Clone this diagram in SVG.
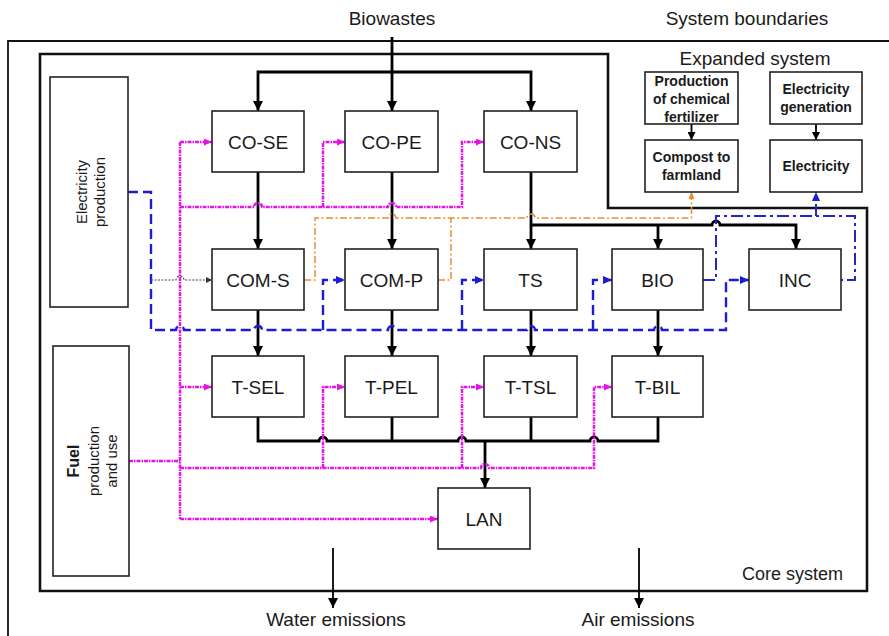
<svg xmlns="http://www.w3.org/2000/svg" width="889" height="636" viewBox="0 0 889 636">
<style>
text{font-family:"Liberation Sans",Arial,sans-serif;fill:#1a1a1a}
.lbl{font-size:19px;text-anchor:middle}
.sm{font-size:14px;font-weight:bold;text-anchor:middle}
.side{font-size:15px;text-anchor:middle}
.box{fill:#fff;stroke:#222;stroke-width:1.6}
.bd{fill:none;stroke:#111}
.bk{fill:none;stroke:#000;stroke-width:2.8}
.bt{fill:none;stroke:#000;stroke-width:1.8}
.mg{fill:none;stroke:#e415e4;stroke-width:2.5;stroke-dasharray:4 1 1.5 1}
.bl{fill:none;stroke:#1c1cd4;stroke-width:2.4;stroke-dasharray:10 5}
.bdd{fill:none;stroke:#2525c8;stroke-width:2;stroke-dasharray:12 4 3 4}
.or{fill:none;stroke:#ef8a33;stroke-width:1.5;stroke-dasharray:7 2.5 2 2.5}
.dt{fill:none;stroke:#444;stroke-width:1.1;stroke-dasharray:2 1.5}
</style>
<defs>
<marker id="ak" viewBox="0 0 10 10" refX="10" refY="5" markerWidth="10" markerHeight="10" markerUnits="userSpaceOnUse" orient="auto"><path d="M0,0L10,5L0,10z" fill="#000"/></marker>
<marker id="aks" viewBox="0 0 10 10" refX="10" refY="5" markerWidth="8" markerHeight="8" markerUnits="userSpaceOnUse" orient="auto"><path d="M0,0L10,5L0,10z" fill="#000"/></marker>
<marker id="am" viewBox="0 0 10 10" refX="10" refY="5" markerWidth="8" markerHeight="7" markerUnits="userSpaceOnUse" orient="auto" preserveAspectRatio="none"><path d="M0,0L10,5L0,10z" fill="#e415e4"/></marker>
<marker id="ab" viewBox="0 0 10 10" refX="10" refY="5" markerWidth="9" markerHeight="8" markerUnits="userSpaceOnUse" orient="auto" preserveAspectRatio="none"><path d="M0,0L10,5L0,10z" fill="#1c1cd4"/></marker>
<marker id="ao" viewBox="0 0 10 10" refX="10" refY="5" markerWidth="7" markerHeight="6" markerUnits="userSpaceOnUse" orient="auto" preserveAspectRatio="none"><path d="M0,0L10,5L0,10z" fill="#ef8a33"/></marker>
<marker id="ad" viewBox="0 0 10 10" refX="10" refY="5" markerWidth="6" markerHeight="6" markerUnits="userSpaceOnUse" orient="auto"><path d="M0,0L10,5L0,10z" fill="#333"/></marker>
</defs>

<g id="boundaries">
<path class="bd" stroke-width="1.8" d="M8,636V41H889"/>
<path class="bd" stroke-width="2.6" d="M40,54H608V208H867V591H40Z"/>
<text x="392" y="25" style="font-size:19px;text-anchor:middle">Biowastes</text>
<text x="747" y="25" style="font-size:19px;text-anchor:middle">System boundaries</text>
<text x="755" y="65" style="font-size:19px;text-anchor:middle">Expanded system</text>
<text x="843" y="580" style="font-size:18px;text-anchor:end">Core system</text>
<text x="336" y="626" style="font-size:19px;text-anchor:middle">Water emissions</text>
<text x="638" y="626" style="font-size:19px;text-anchor:middle">Air emissions</text>
</g>

<g id="connectors">
<path class="bk" d="M392,37V111" marker-end="url(#ak)"/>
<path class="bk" d="M392,72H258V111" marker-end="url(#ak)"/>
<path class="bk" d="M392,72H531V111" marker-end="url(#ak)"/>
<path class="bk" d="M258,172V249" marker-end="url(#ak)"/>
<path class="bk" d="M392,172V249" marker-end="url(#ak)"/>
<path class="bk" d="M531,172V249" marker-end="url(#ak)"/>
<path class="bk" d="M531,225H712a4,4 0 0 1 8,0H796V249" marker-end="url(#ak)"/>
<path class="bk" d="M658,225V249" marker-end="url(#ak)"/>
<path class="bk" d="M258,310V356" marker-end="url(#ak)"/>
<path class="bk" d="M392,310V356" marker-end="url(#ak)"/>
<path class="bk" d="M531,310V356" marker-end="url(#ak)"/>
<path class="bk" d="M658,310V356" marker-end="url(#ak)"/>
<path class="bk" d="M258,417V441H319a4,4 0 0 1 8,0H458a4,4 0 0 1 8,0H590a4,4 0 0 1 8,0H658V417"/>
<path class="bk" d="M392,417V441M531,417V441"/>
<path class="bk" d="M485,441V488" marker-end="url(#ak)"/>
<path class="bt" d="M333,548V608" marker-end="url(#ak)"/>
<path class="bt" d="M639,548V608" marker-end="url(#ak)"/>
<path class="bt" d="M691.5,124V140" marker-end="url(#aks)"/>
<path class="bt" d="M816,124V140" marker-end="url(#aks)"/>
<path class="mg" d="M129,461H180"/>
<path class="mg" d="M180,142V519"/>
<path class="mg" d="M180,142H212" marker-end="url(#am)"/>
<path class="mg" d="M180,387H212" marker-end="url(#am)"/>
<path class="mg" d="M180,519H438" marker-end="url(#am)"/>
<path class="mg" d="M180,207H254a4,4 0 0 1 8,0H388a4,4 0 0 1 8,0H462V142H484" marker-end="url(#am)"/>
<path class="mg" d="M323,207V142H345" marker-end="url(#am)"/>
<path class="mg" d="M180,468H481a4,4 0 0 1 8,0H594V387H612" marker-end="url(#am)"/>
<path class="mg" d="M323,468V387H345" marker-end="url(#am)"/>
<path class="mg" d="M462,468V387H484" marker-end="url(#am)"/>
<path class="bl" d="M128,192H151V330H176a4,4 0 0 1 8,0H254a4,4 0 0 1 8,0H388a4,4 0 0 1 8,0H527a4,4 0 0 1 8,0H654a4,4 0 0 1 8,0H726V280H749" marker-end="url(#ab)"/>
<path class="bl" d="M323,330V280H345" marker-end="url(#ab)"/>
<path class="bl" d="M462,330V280H484" marker-end="url(#ab)"/>
<path class="bl" d="M593,330V280H612" marker-end="url(#ab)"/>
<path class="dt" d="M151,280H176a4,4 0 0 1 8,0H212" marker-end="url(#ad)"/>
<path class="or" d="M304,280H315V218H388a4,4 0 0 1 8,0H527a4,4 0 0 1 8,0H691.5V192" marker-end="url(#ao)"/>
<path class="or" d="M438,280H451V218"/>
<path class="bdd" d="M703,280H716V216H855V280H841"/>
<path class="bdd" d="M816,216V192" marker-end="url(#ab)"/>
</g>

<g id="n-elecprod"><rect class="box" x="50" y="77" width="78" height="230"/>
<g transform="translate(89,192) rotate(-90)"><text class="side" x="0" y="-2">Electricity</text><text class="side" x="0" y="16">production</text></g></g>
<g id="n-fuel"><rect class="box" x="53" y="346" width="76" height="230"/>
<g transform="translate(91,461) rotate(-90)"><text class="side" x="0" y="-12" style="font-weight:bold;font-size:16px">Fuel</text><text class="side" x="0" y="8">production</text><text class="side" x="0" y="26">and use</text></g></g>

<g id="n-cose"><rect class="box" x="212" y="111" width="92" height="61"/><text class="lbl" x="258" y="148.5">CO-SE</text></g>
<g id="n-cope"><rect class="box" x="345" y="111" width="93" height="61"/><text class="lbl" x="391.5" y="148.5">CO-PE</text></g>
<g id="n-cons"><rect class="box" x="484" y="111" width="93" height="61"/><text class="lbl" x="530.5" y="148.5">CO-NS</text></g>
<g id="n-coms"><rect class="box" x="212" y="249" width="92" height="61"/><text class="lbl" x="258" y="286.5">COM-S</text></g>
<g id="n-comp"><rect class="box" x="345" y="249" width="93" height="61"/><text class="lbl" x="391.5" y="286.5">COM-P</text></g>
<g id="n-ts"><rect class="box" x="484" y="249" width="93" height="61"/><text class="lbl" x="530.5" y="286.5">TS</text></g>
<g id="n-bio"><rect class="box" x="612" y="249" width="91" height="61"/><text class="lbl" x="657.5" y="286.5">BIO</text></g>
<g id="n-inc"><rect class="box" x="749" y="249" width="92" height="61"/><text class="lbl" x="795" y="286.5">INC</text></g>
<g id="n-tsel"><rect class="box" x="212" y="356" width="92" height="61"/><text class="lbl" x="258" y="393.5">T-SEL</text></g>
<g id="n-tpel"><rect class="box" x="345" y="356" width="93" height="61"/><text class="lbl" x="391.5" y="393.5">T-PEL</text></g>
<g id="n-ttsl"><rect class="box" x="484" y="356" width="93" height="61"/><text class="lbl" x="530.5" y="393.5">T-TSL</text></g>
<g id="n-tbil"><rect class="box" x="612" y="356" width="91" height="61"/><text class="lbl" x="657.5" y="393.5">T-BIL</text></g>
<g id="n-lan"><rect class="box" x="438" y="488" width="92" height="61"/><text class="lbl" x="484" y="525.5">LAN</text></g>

<g id="n-fert"><rect class="box" x="645" y="72" width="93" height="52"/><text class="sm" x="691.5" y="86">Production</text><text class="sm" x="691.5" y="104">of chemical</text><text class="sm" x="691.5" y="122">fertilizer</text></g>
<g id="n-compost"><rect class="box" x="645" y="140" width="93" height="52"/><text class="sm" x="691.5" y="162">Compost to</text><text class="sm" x="691.5" y="180">farmland</text></g>
<g id="n-elecgen"><rect class="box" x="770" y="72" width="92" height="52"/><text class="sm" x="816" y="94">Electricity</text><text class="sm" x="816" y="112">generation</text></g>
<g id="n-elec"><rect class="box" x="770" y="140" width="92" height="52"/><text class="sm" x="816" y="171">Electricity</text></g>
</svg>
